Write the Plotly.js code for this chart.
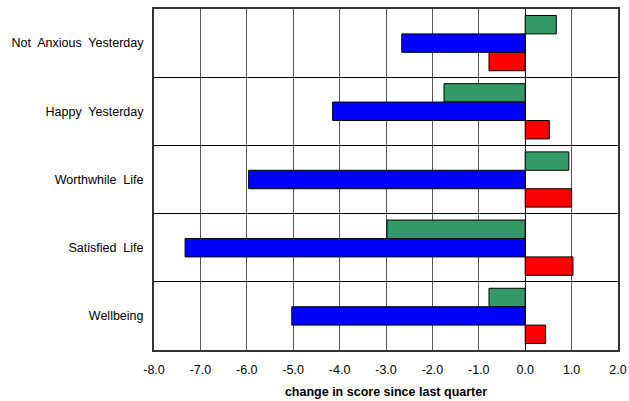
<!DOCTYPE html>
<html>
<head>
<meta charset="utf-8">
<script src="https://cdn.plot.ly/plotly-3.0.1.min.js"></script>
<style>
  html, body { margin: 0; padding: 0; background: #fff; }
  #chart { width: 629px; height: 401px; }
</style>
</head>
<body>
<div id="chart"></div>
<script>
// Wellbeing measures, listed top to bottom
const categories = [
  "Not\u00a0 Anxious\u00a0 Yesterday",
  "Happy\u00a0 Yesterday",
  "Worthwhile\u00a0 Life",
  "Satisfied\u00a0 Life",
  "Wellbeing"
];

// Change in score since last quarter, one array per series
const greenValues = [0.67, -1.75, 0.94, -2.98, -0.78];
const blueValues  = [-2.66, -4.15, -5.96, -7.33, -5.03];
const redValues   = [-0.78, 0.52, 1.00, 1.03, 0.44];

const xTickVals = [-8, -7, -6, -5, -4, -3, -2, -1, 0, 1, 2];
const xTickText = ["-8.0", "-7.0", "-6.0", "-5.0", "-4.0", "-3.0", "-2.0", "-1.0", "0.0", "1.0", "2.0"];

function barTrace(values, color) {
  return {
    type: "bar",
    orientation: "h",
    y: categories,
    x: values,
    marker: { color: color, line: { color: "#000", width: 1 } },
    hoverinfo: "x+y"
  };
}

const data = [
  barTrace(greenValues, "#339966"),
  barTrace(blueValues, "#0000ff"),
  barTrace(redValues, "#ff0000")
];

const layout = {
  width: 629,
  height: 401,
  margin: { l: 154, r: 11, t: 9, b: 51 },
  paper_bgcolor: "#fff",
  plot_bgcolor: "#fff",
  barmode: "group",
  bargap: 0.19,
  bargroupgap: 0,
  showlegend: false,
  font: { family: "Liberation Sans, Arial, sans-serif", size: 12.5, color: "#000" },
  xaxis: {
    range: [-8, 2],
    tickvals: xTickVals,
    ticktext: xTickText,
    showgrid: true,
    gridcolor: "#555",
    gridwidth: 1,
    zeroline: true,
    zerolinecolor: "#000",
    zerolinewidth: 1,
    showline: true,
    linecolor: "#333",
    linewidth: 2,
    mirror: true,
    ticks: "",
    ticklabelstandoff: 7,
    tickfont: { size: 12.5 },
    title: {
      text: "<b>change in score since last quarter</b>",
      font: { size: 12.5 },
      standoff: 11
    },
    fixedrange: true
  },
  yaxis: {
    type: "category",
    autorange: "reversed",
    tickson: "boundaries",
    showgrid: true,
    gridcolor: "#000",
    gridwidth: 1,
    showline: true,
    linecolor: "#333",
    linewidth: 2,
    mirror: true,
    ticks: "",
    ticklabelstandoff: 6,
    tickfont: { size: 12.5 },
    fixedrange: true
  }
};

Plotly.newPlot("chart", data, layout, { displayModeBar: false, staticPlot: true });
</script>
</body>
</html>
